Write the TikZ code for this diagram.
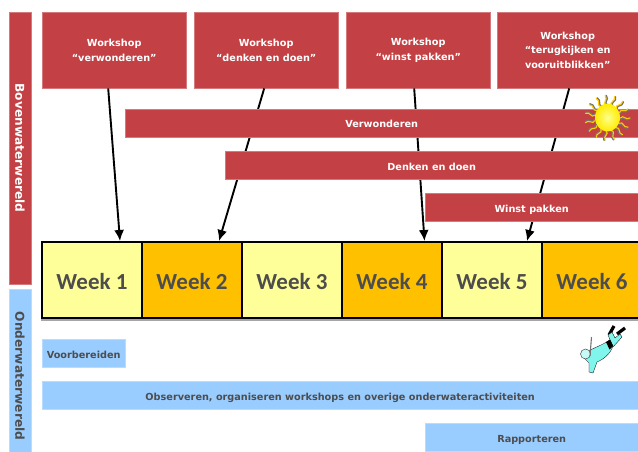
\documentclass[tikz,border=0pt]{standalone}
\usepackage{fontspec}
\setmainfont{DejaVu Sans}
\newfontfamily\weekfont{Carlito}
\definecolor{wredc}{HTML}{C34144}
\definecolor{wblue}{HTML}{99CCFF}
\definecolor{wyellow}{HTML}{FFFF99}
\definecolor{worange}{HTML}{FFC000}
\definecolor{wtext}{HTML}{4D4D4D}
\definecolor{wdiver}{HTML}{7FF5EC}
\usetikzlibrary{arrows.meta}
\tikzset{
    bar/.style={rectangle, inner sep=0pt, minimum height=28pt, anchor=west, text height=10pt, text depth=0pt, font=\fontsize{9.7}{10}\selectfont\bfseries},
    redbar/.style={bar, fill=wredc, draw=wredc!70!white, line width=0.4pt, text=white},
    bluebar/.style={bar, fill=wblue, draw=wblue!70!white, line width=0.4pt, text=wtext},
    workshop/.style={redbar, minimum height=76pt, align=center, anchor=north west, text height=, text depth=, font=\fontsize{9.7}{14.5}\selectfont\bfseries},
    side/.style={rectangle, inner sep=0pt, minimum width=22pt, anchor=north west},
    sidelabel/.style={rotate=-90, font=\fontsize{12.2}{12}\selectfont\bfseries},
    week/.style={rectangle, draw=black, line width=2pt, inner sep=0pt, minimum width=100pt, minimum height=76pt, text height=18pt, text depth=0pt, text=wtext, font=\fontsize{23}{25}\weekfont\bfseries},
    arrow/.style={-{Latex[length=11pt,width=10pt]}, line width=1.9pt, black},
}
\begin{document}
\begin{tikzpicture}[x=1pt,y=-1pt]
\useasboundingbox (0,0) rectangle (638,452);

% side columns
\node[side, fill=wredc, draw=wredc!70!white, line width=0.4pt, minimum height=272pt] (boven) at (9,12) {};
\node[side, fill=wblue, draw=wblue!70!white, line width=0.4pt, minimum height=163pt] (onder) at (9,289) {};
\node[sidelabel, text=white] (bovenlabel) at (20,148) {Bovenwaterwereld};
\node[sidelabel, text=wtext] (onderlabel) at (20,376) {Onderwaterwereld};

% workshops
\node[workshop, minimum width=144pt] (ws1) at (42,12) {Workshop\\``verwonderen''};
\node[workshop, minimum width=144pt] (ws2) at (194,12) {Workshop\\``denken en doen''};
\node[workshop, minimum width=144pt] (ws3) at (346,12) {Workshop\\``winst pakken''};
\node[workshop, minimum width=141pt] (ws4) at (497,12) {Workshop\\``terugkijken en\\vooruitblikken''};

% weeks
\fill[black!35] (41,318) rectangle (638,320.5);
\node[week, fill=wyellow] (wk1) at (92,280) {Week 1};
\node[week, fill=worange] (wk2) at (192,280) {Week 2};
\node[week, fill=wyellow] (wk3) at (292,280) {Week 3};
\node[week, fill=worange] (wk4) at (392,280) {Week 4};
\node[week, fill=wyellow] (wk5) at (492,280) {Week 5};
\node[week, fill=worange] (wk6) at (592,280) {Week 6};

% arrows go behind the bars
\draw[arrow] ([xshift=-6pt]ws1.south) -- ([xshift=28pt]wk1.north);
\draw[arrow] ([xshift=-2pt]ws2.south) -- ([xshift=27pt]wk2.north);
\draw[arrow] ([xshift=-4pt]ws3.south) -- ([xshift=32.5pt]wk4.north);
\draw[arrow] ([xshift=1.5pt]ws4.south) -- ([xshift=35pt]wk5.north);

\node[redbar, minimum width=513pt] (verw) at (125,123) {Verwonderen};
\node[redbar, minimum width=413pt] (denk) at (225,165) {Denken en doen};
\node[redbar, minimum width=213pt] (winst) at (425,207) {Winst pakken};

\node[bluebar, minimum width=83pt] (voor) at (42,353) {Voorbereiden};
\node[bluebar, minimum width=596pt] (obs) at (42,395) {Observeren, organiseren workshops en overige onderwateractiviteiten};
\node[bluebar, minimum width=213pt] (rapp) at (425,437) {Rapporteren};

% sun
\foreach \a in {0,24,...,336} {
    \begin{scope}[shift={(607.5,118)}, rotate=\a]
    \draw[line width=1.7pt, black!55, line cap=round] (13,1) .. controls (16,-3) and (18,4) .. (22.5,1);
    \draw[line width=1.1pt, yellow!65!orange, line cap=round] (13,0) .. controls (16,-4) and (18,3) .. (22.5,0);
    \end{scope}
}
\shade[inner color=yellow!45!white, outer color=yellow!85!orange] (607.5,117.5) ellipse (12.5pt and 14pt);

% diver
\draw[black, line width=3.2pt] (609,335) -- (614,326);
\draw[black, line width=3.2pt] (617,334) -- (625,328);
\fill[wdiver, draw=black, line width=0.3pt] (611,342) -- (608,335) -- (612,332) -- (615,338) -- (620,334) -- (622,337) -- (613,347) -- cycle;
\fill[wdiver, draw=black, line width=0.3pt] (586,352) .. controls (592,349) and (604,344) .. (610,340)
    -- (613,346) .. controls (610,355) and (602,360) .. (597,362)
    -- (593,373) -- (589,372) -- (589,363) -- (584,358) -- cycle;
\fill[black] (606,342) -- (610,339.5) -- (613,346) -- (609.5,349.5) -- cycle;
\fill[wdiver!45!white, draw=black!70, line width=0.5pt] (585.5,354) circle (5pt);
\draw[black!55, line width=1.1pt] (591.5,337) -- (590,356);
\end{tikzpicture}
\end{document}
